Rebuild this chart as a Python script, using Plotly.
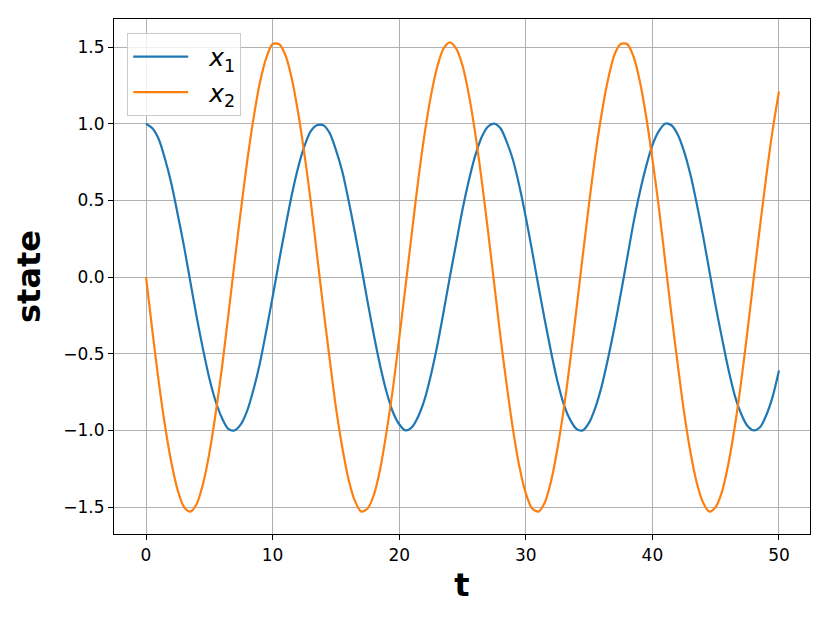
import plotly.graph_objects as go

t = [i * 0.5 for i in range(101)]
x1 = [1.00, 0.97, 0.90, 0.77, 0.61, 0.41, 0.20, -0.03, -0.26, -0.47,
      -0.66, -0.81, -0.92, -0.99, -1.00, -0.96, -0.87, -0.73, -0.56, -0.35,
      -0.13, 0.10, 0.32, 0.53, 0.71, 0.85, 0.95, 0.99, 0.99, 0.94,
      0.83, 0.69, 0.50, 0.29, 0.07, -0.16, -0.38, -0.58, -0.75, -0.88,
      -0.96, -1.00, -0.98, -0.91, -0.80, -0.64, -0.45, -0.23, 0.00, 0.22,
      0.44, 0.63, 0.79, 0.91, 0.98, 1.00, 0.97, 0.88, 0.76, 0.59,
      0.39, 0.17, -0.06, -0.28, -0.49, -0.68, -0.83, -0.93, -0.99, -1.00,
      -0.95, -0.85, -0.71, -0.53, -0.33, -0.11, 0.12, 0.35, 0.55, 0.72,
      0.86, 0.95, 1.00, 0.99, 0.93, 0.82, 0.67, 0.48, 0.27, 0.04,
      -0.19, -0.40, -0.60, -0.77, -0.89, -0.97, -1.00, -0.98, -0.90, -0.78,
      -0.61]
x2 = [0.00, -0.35, -0.68, -0.97, -1.21, -1.39, -1.50, -1.53, -1.48, -1.35,
      -1.15, -0.89, -0.59, -0.25, 0.10, 0.44, 0.76, 1.04, 1.27, 1.43,
      1.52, 1.52, 1.45, 1.30, 1.08, 0.81, 0.50, 0.15, -0.20, -0.53,
      -0.85, -1.11, -1.32, -1.46, -1.53, -1.51, -1.42, -1.25, -1.01, -0.73,
      -0.40, -0.06, 0.29, 0.63, 0.93, 1.18, 1.37, 1.49, 1.53, 1.49,
      1.38, 1.19, 0.94, 0.64, 0.31, -0.04, -0.39, -0.71, -1.00, -1.24,
      -1.41, -1.51, -1.53, -1.47, -1.33, -1.12, -0.86, -0.55, -0.21, 0.14,
      0.48, 0.80, 1.07, 1.29, 1.45, 1.52, 1.52, 1.44, 1.28, 1.05,
      0.77, 0.46, 0.11, -0.24, -0.57, -0.88, -1.14, -1.34, -1.47, -1.53,
      -1.50, -1.40, -1.22, -0.98, -0.69, -0.36, -0.01, 0.33, 0.66, 0.96,
      1.21]
series_names = ["&nbsp;&nbsp;<i>x</i><sub>1</sub>", "&nbsp;&nbsp;<i>x</i><sub>2</sub>"]
colors = ["#1f77b4", "#ff7f0e"]
x_ticks = [0, 10, 20, 30, 40, 50]
y_ticks = [-1.5, -1.0, -0.5, 0.0, 0.5, 1.0, 1.5]

fig = go.Figure()
for name, ys, c in zip(series_names, [x1, x2], colors):
    fig.add_trace(go.Scatter(x=t, y=ys, mode="lines", name=name,
                             line=dict(color=c, width=2.2, shape="spline", smoothing=0.8)))

axis_common = dict(showline=True, linecolor="black", linewidth=1.2, mirror=True,
                   ticks="outside", ticklen=5, tickwidth=1.2, tickcolor="black",
                   showgrid=True, gridcolor="#b0b0b0", gridwidth=1, zeroline=False,
                   automargin=False,
                   tickfont=dict(family="DejaVu Sans", size=17, color="black"))

fig.update_xaxes(range=[-2.53, 52.45], tickvals=x_ticks,
                 title=dict(text="<b>t</b>", standoff=10,
                            font=dict(family="DejaVu Sans", size=32, color="black")),
                 **axis_common)
fig.update_yaxes(range=[-1.676, 1.683], tickvals=y_ticks, tickformat=".1f",
                 title=dict(text="<b>state</b>", standoff=13,
                            font=dict(family="DejaVu Sans", size=32, color="black")),
                 **axis_common)

fig.update_layout(
    width=830, height=623,
    margin=dict(l=114, r=20, t=19, b=89),
    paper_bgcolor="white", plot_bgcolor="white",
    showlegend=True,
    legend=dict(x=0.019, y=0.973, xanchor="left", yanchor="top",
                bgcolor="rgba(255,255,255,0.8)", bordercolor="#cccccc", borderwidth=1,
                font=dict(family="DejaVu Sans", size=25, color="black"),
                itemwidth=55, tracegroupgap=0),
)

fig.write_html("out.html", config={"responsive": False, "displayModeBar": False},
               post_script="document.body.style.margin='0';")
